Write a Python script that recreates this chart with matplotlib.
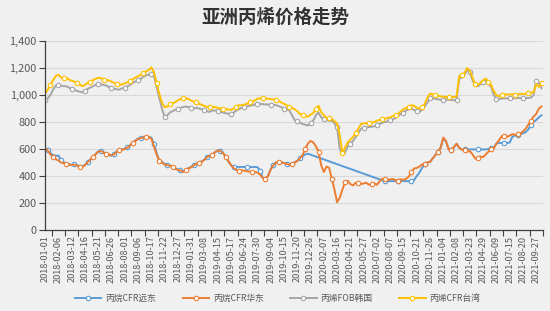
import numpy as np
import matplotlib
matplotlib.use("Agg")
import matplotlib.pyplot as plt
from matplotlib.ticker import FuncFormatter

plt.rcParams['font.family'] = ['Noto Sans CJK SC', 'DejaVu Sans']

title = "亚洲丙烯价格走势"
series_names = ["丙烷CFR远东", "丙烷CFR华东", "丙烯FOB韩国", "丙烯CFR台湾"]

tick_labels = [
    "2018-01-01", "2018-02-06", "2018-03-12", "2018-04-16", "2018-05-21", "2018-06-26",
    "2018-08-01", "2018-09-06", "2018-10-17", "2018-11-22", "2018-12-27", "2019-01-31",
    "2019-03-08", "2019-04-15", "2019-05-17", "2019-06-24", "2019-07-30", "2019-09-04",
    "2019-10-15", "2019-11-20", "2019-12-26", "2020-02-07", "2020-03-16", "2020-04-21",
    "2020-05-27", "2020-07-02", "2020-08-07", "2020-09-15", "2020-10-21", "2020-11-26",
    "2021-01-04", "2021-02-08", "2021-03-23", "2021-04-29", "2021-06-09", "2021-07-15",
    "2021-08-20", "2021-09-27",
]

nan = float('nan')

propane_far_east = [
    605, 595, 570, 555, 550, 552, 520, 500, 495, 488,
    482, 488, 480, 475, 470, 482, 502, 522, 540, 562,
    582, 586, 572, 560, 555, 550, 562, 582, 592, 596,
    602, 612, 628, 648, 662, 678, 682, 688, 692, 690,
    685, 640, 570, 515, 505, 490, 482, 478, 472, 458,
    448, 442, 432, 448, 458, 468, 480, 492, 502, 508,
    522, 542, 552, 557, 577, 590, 588, 572, 545, 512,
    482, 467, 467, 467, 467, 467, 467, 467, 467, 467,
    465, 440, 385, 380, 402, 452, 482, 500, 506, 502,
    496, 492, 484, 492, 502, 512, 532, 545, 560, 565,
    nan, nan, nan, nan, nan, nan, nan, nan, nan, nan,
    nan, nan, nan, nan, nan, nan, nan, nan, nan, nan,
    nan, nan, nan, nan, nan, nan, nan, 368, 365, 363,
    362, 362, 362, 362, 362, 362, 362, 362, 362, 370,
    400, 425, 460, 490, 500, 505, 530, 555, 580, 610,
    680, 655, 600, 590, 612, 638, 608, 595, 597, 597,
    597, 597, 597, 597, 597, 597, 597, 600, 605, 608,
    640, 645, 645, 645, 645, 648, 690, 700, 705, 712,
    715, 725, 745, 775, 800, 815, 835, 850,
]

propane_east_china = [
    605, 590, 560, 540, 525, 515, 500, 495, 490, 485,
    480, 485, 478, 470, 465, 480, 500, 520, 540, 560,
    580, 585, 575, 565, 560, 553, 560, 580, 590, 595,
    600, 610, 625, 645, 660, 675, 680, 685, 690, 685,
    678, 620, 560, 510, 500, 485, 480, 475, 470, 455,
    445, 440, 430, 445, 455, 465, 478, 490, 500, 505,
    520, 540, 550, 555, 575, 590, 585, 570, 540, 510,
    480, 460, 445, 440, 442, 440, 435, 432, 430, 430,
    425, 410, 385, 380, 400, 450, 480, 500, 505, 500,
    495, 490, 482, 490, 500, 510, 530, 555, 600, 640,
    660, 650, 620, 580, 480, 430, 470, 460, 380, 300,
    205, 240, 300, 355, 365, 340, 330, 350, 345, 340,
    345, 350, 335, 340, 345, 335, 360, 380, 375, 370,
    375, 378, 370, 365, 375, 372, 380, 395, 430, 455,
    460, 470, 485, 492, 500, 505, 530, 555, 580, 610,
    685, 660, 600, 590, 615, 640, 610, 595, 590, 580,
    585, 560, 530, 535, 545, 540, 560, 580, 600, 605,
    640, 665, 695, 700, 690, 700, 710, 705, 712, 715,
    730, 750, 780, 810, 840, 860, 900, 915,
]

propylene_fob_korea = [
    960, 975, 1000, 1040, 1070, 1075, 1070, 1065, 1065, 1055,
    1045, 1040, 1030, 1025, 1020, 1030, 1045, 1055, 1065, 1075,
    1085, 1080, 1075, 1070, 1060, 1055, 1048, 1042, 1040, 1050,
    1055, 1065, 1075, 1090, 1100, 1108, 1120, 1135, 1145, 1152,
    1158, 1145, 1060, 980, 900, 840, 850, 870, 880, 890,
    900, 905, 911, 915, 910, 905, 900, 905, 900, 895,
    890, 880, 875, 885, 885, 880, 875, 870, 865, 862,
    860, 870, 885, 895, 905, 910, 915, 920, 924, 930,
    935, 935, 932, 930, 930, 928, 928, 925, 918, 910,
    900, 895, 885, 850, 815, 805, 795, 785, 780, 775,
    790, 810, 850, 870, 835, 820, 815, 810, 810, 790,
    760, 600, 565, 575, 620, 640, 660, 690, 720, 750,
    755, 760, 762, 765, 768, 775, 785, 795, 800, 805,
    812, 820, 830, 845, 860, 870, 885, 895, 899, 890,
    880, 874, 890, 915, 945, 975, 978, 972, 968, 965,
    965, 966, 965, 963, 962, 966, 1120, 1130, 1150, 1185,
    1170, 1110, 1070, 1065, 1080, 1100, 1105, 1085, 1060, 1000,
    972, 970, 973, 975, 975, 975, 977, 976, 977, 978,
    978, 978, 978, 980, 1000, 1105, 1090, 1050,
]

propylene_cfr_taiwan = [
    1010, 1040, 1075, 1110, 1140, 1150, 1130, 1125, 1125, 1115,
    1105, 1100, 1090, 1080, 1065, 1075, 1090, 1100, 1110, 1120,
    1128, 1125, 1115, 1110, 1108, 1100, 1090, 1080, 1072, 1080,
    1085, 1095, 1105, 1115, 1130, 1140, 1150, 1160, 1175, 1185,
    1205, 1170, 1090, 1010, 945, 910, 915, 930, 940, 948,
    960, 970, 975, 978, 970, 960, 950, 945, 935, 928,
    920, 911, 910, 911, 910, 905, 900, 900, 895, 894,
    890, 900, 915, 924, 925, 928, 935, 945, 948, 960,
    973, 975, 978, 975, 972, 970, 968, 965, 955, 945,
    935, 924, 915, 905, 895, 880, 860, 850, 845, 840,
    855, 865, 900, 920, 875, 850, 830, 830, 825, 805,
    790, 700, 570, 610, 650, 670, 690, 720, 750, 785,
    790, 790, 795, 795, 800, 810, 815, 820, 825, 830,
    835, 845, 850, 860, 880, 895, 905, 915, 925, 920,
    905, 900, 910, 935, 980, 1010, 1005, 1000, 995, 990,
    988, 985, 985, 985, 985, 990, 1140, 1150, 1165, 1200,
    1180, 1130, 1080, 1075, 1090, 1110, 1122, 1100, 1075, 1030,
    1000, 990, 1000, 1005, 1003, 1005, 1005, 1002, 1005, 1008,
    1008, 1010, 1012, 1017, 1020, 1080, 1060, 1090,
]

colors = ["#5B9BD5", "#ED7D31", "#A5A5A5", "#FFC000"]
all_series = [propane_far_east, propane_east_china, propylene_fob_korea, propylene_cfr_taiwan]
n = len(propane_east_china)
assert all(len(s) == n for s in all_series), [len(s) for s in all_series]

bg = "#F0F0F0"
fig = plt.figure(figsize=(5.5, 3.11), dpi=100, facecolor=bg)
ax = fig.add_axes([0.082, 0.2605, 0.905, 0.6075], facecolor=bg)

x = np.arange(n)
offsets = [1, 3, 0, 2]
for vals, name, c, off in zip(all_series, series_names, colors, offsets):
    v = np.array(vals, dtype=float)
    m = ~np.isnan(v)
    ax.plot(x[m], v[m], color=c, lw=1.4, label=name,
            marker='o', markersize=3.2, markerfacecolor='white',
            markeredgecolor=c, markeredgewidth=0.8,
            markevery=(off, 5), solid_joinstyle='round')

ax.set_ylim(0, 1400)
ax.set_yticks(np.arange(0, 1401, 200))
ax.yaxis.set_major_formatter(FuncFormatter(lambda v, p: f"{int(v):,}"))
ax.grid(axis='y', color='#D9D9D9', lw=0.8)
ax.set_axisbelow(True)

ax.set_xlim(0, n - 1)
label_pos = np.arange(len(tick_labels)) * 5
ax.set_xticks(label_pos)
ax.set_xticklabels(tick_labels, rotation=90, fontsize=6.6, color='#595959')
ax.tick_params(axis='x', which='major', length=0, pad=4)
ax.set_xticks(np.arange(len(tick_labels)) * 5 + 2.5, minor=True)
ax.tick_params(axis='x', which='minor', length=4, color='#404040', width=0.8)
ax.tick_params(axis='y', labelsize=7.9, labelcolor='#595959', length=4,
               color='#404040', width=0.8, pad=2)

for s in ['top', 'right']:
    ax.spines[s].set_visible(False)
for s in ['left', 'bottom']:
    ax.spines[s].set_color('#404040')
    ax.spines[s].set_linewidth(0.9)

fig.text(0.5, 0.945, title, ha='center', va='center', fontsize=13.3,
         fontweight='bold', color='#333333')

leg = fig.legend(loc='center', bbox_to_anchor=(0.505, 0.04), ncol=4,
                 frameon=False, fontsize=6.3, handlelength=3.0,
                 handletextpad=0.5, columnspacing=3.0, labelcolor='#595959')

fig.savefig("out.png", dpi=100, facecolor=bg)
